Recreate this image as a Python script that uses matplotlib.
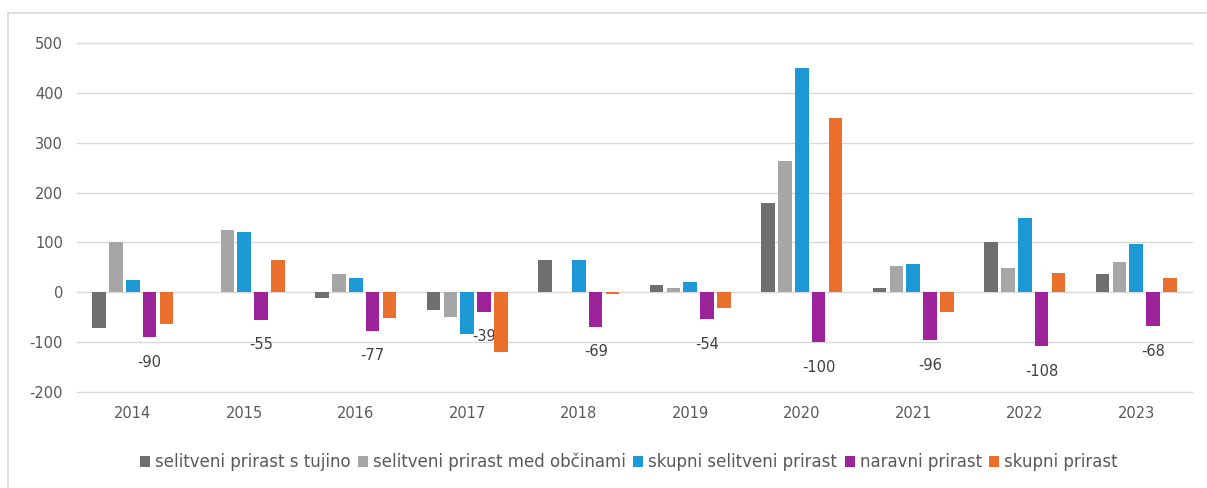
import matplotlib
matplotlib.use("Agg")
import matplotlib.pyplot as plt
from matplotlib.lines import Line2D
import numpy as np

plt.rcParams['font.family'] = ['DejaVu Sans']
plt.rcParams['axes.unicode_minus'] = False

years = ['2014', '2015', '2016', '2017', '2018', '2019', '2020', '2021', '2022', '2023']
series_names = ['selitveni prirast s tujino', 'selitveni prirast med občinami',
                'skupni selitveni prirast', 'naravni prirast', 'skupni prirast']

selitveni_tujina = [-71, 0, -11, -35, 65, 15, 180, 8, 101, 36]
selitveni_obcine = [100, 124, 36, -50, 0, 8, 264, 52, 49, 60]
skupni_selitveni = [24, 121, 29, -83, 65, 20, 449, 56, 148, 97]
naravni = [-90, -55, -77, -39, -69, -54, -100, -96, -108, -68]
skupni = [-63, 65, -51, -119, -4, -31, 349, -39, 39, 28]

colors = ['#6f6f6f', '#a6a6a6', '#1d9ad6', '#9c2399', '#ea6f2c']

W, H = 1207, 488
fig = plt.figure(figsize=(W / 100, H / 100), dpi=100)
ax = fig.add_axes([77 / W, 1 - 392 / H, (1192 - 77) / W, (392 - 43) / H])

all_series = [selitveni_tujina, selitveni_obcine, skupni_selitveni, naravni, skupni]
x = np.arange(len(years))
slot = 0.152
width = 0.122
for i, (vals, name, c) in enumerate(zip(all_series, series_names, colors)):
    bars = ax.bar(x + (i - 2) * slot, vals, width=width, color=c, label=name, zorder=3)
    if i == 3:
        for b, v in zip(bars, vals):
            ax.annotate(f'{v}', xy=(b.get_x() + b.get_width() / 2, v),
                        xytext=(0, -18), textcoords='offset points',
                        ha='center', va='center', fontsize=10.5, color='#404040')

ax.set_xlim(-0.5, len(years) - 0.5)
ax.set_ylim(-200, 500)
ax.set_yticks([-200, -100, 0, 100, 200, 300, 400, 500])
ax.set_xticks(x)
ax.set_xticklabels(years)
ax.grid(axis='y', color='#d9d9d9', linewidth=1.0, zorder=0)
for gl in ax.get_ygridlines():
    gl.set_clip_on(False)
for s in ax.spines.values():
    s.set_visible(False)
ax.tick_params(axis='both', length=0, labelsize=10.5, colors='#595959')
ax.tick_params(axis='y', pad=10)
ax.tick_params(axis='x', pad=10)

leg = fig.legend(loc='center', bbox_to_anchor=(629 / W, 1 - 462 / H), ncol=5,
                 frameon=False, fontsize=12, handlelength=0.6, handleheight=0.6,
                 handletextpad=0.3, columnspacing=0.45, labelcolor='#595959')

# outer chart frame
fig.add_artist(Line2D([8 / W, 8 / W], [0, 1 - 13 / H], transform=fig.transFigure,
                      color='#d9d9d9', linewidth=1.2))
fig.add_artist(Line2D([8 / W, 1.0], [1 - 13 / H, 1 - 13 / H], transform=fig.transFigure,
                      color='#d9d9d9', linewidth=1.2))

fig.savefig('out.png', dpi=100, facecolor='white')
